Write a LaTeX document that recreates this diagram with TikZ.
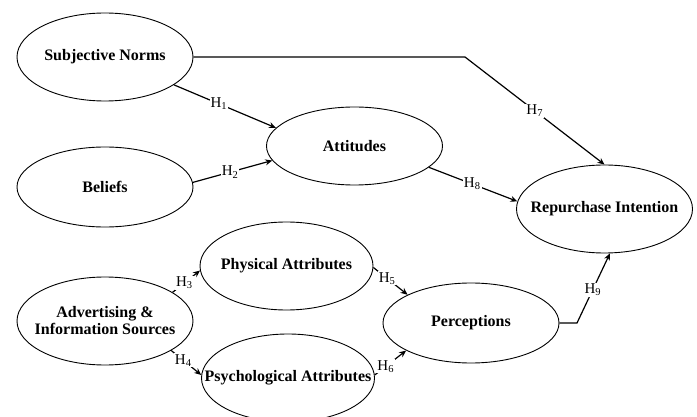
\documentclass[tikz,border=0pt]{standalone}
\usepackage{fontspec}
\setmainfont{Liberation Serif}
\usetikzlibrary{arrows.meta}
\usetikzlibrary{shapes.geometric}

\begin{document}
\begin{tikzpicture}[x=1pt,y=-1pt,
    construct/.style={ellipse,draw,line width=0.9pt,minimum width=176pt,minimum height=88pt,
      inner xsep=-40pt,inner ysep=0pt,align=center,font=\bfseries\fontsize{16}{17}\selectfont},
    hpath/.style={line width=1.2pt,-{Stealth[length=7pt,width=6pt]}},
    hyp/.style={fill=white,inner sep=1pt,font=\fontsize{15}{17}\selectfont}]

    % fix the frame of the picture
    \useasboundingbox (0,0) rectangle (697,417);

    % draw the constructs
    \node[construct] (norms) at (105,57) {Subjective Norms};
    \node[construct,minimum height=80pt] (beliefs) at (105,187) {Beliefs};
    \node[construct,minimum height=78pt] (att) at (354.5,146) {Attitudes};
    \node[construct] (rep) at (604.5,209) {Repurchase Intention};
    \node[construct] (adv) at (105,321) {Advertising \&\\Information Sources};
    \node[construct,minimum width=173pt] (phys) at (286.5,266) {Physical Attributes};
    \node[construct,minimum width=173pt] (psych) at (288,378) {Psychological Attributes};
    \node[construct,minimum height=80pt] (perc) at (471,323) {Perceptions};

    % bend points
    \coordinate (bend7) at (465,57);
    \coordinate (bend9) at (577,323);

    % hypotheses
    \draw[hpath] (norms.-22) -- node[hyp,pos=0.44] {H\textsubscript{1}} (att.167);
    \draw[hpath] (beliefs.3) -- node[hyp,pos=0.47] {H\textsubscript{2}} (att.-170);
    \draw[hpath] (adv.23) -- node[hyp,pos=0.43] {H\textsubscript{3}} (phys.-177);
    \draw[hpath] (adv.-24) -- node[hyp,pos=0.4] {H\textsubscript{4}} (psych.178);
    \draw[hpath] (phys.-1) -- node[hyp,pos=0.4] {H\textsubscript{5}} (perc.156);
    \draw[hpath] (psych.2) -- node[hyp,pos=0.35] {H\textsubscript{6}} (perc.-157);
    \draw[hpath] (norms.east) -- (bend7) -- node[hyp,pos=0.5] {H\textsubscript{7}} (rep.north);
    \draw[hpath] (att.-16) -- node[hyp,pos=0.49] {H\textsubscript{8}} (rep.175);
    \draw[hpath] (perc.east) -- (bend9) -- node[hyp,pos=0.48] {H\textsubscript{9}} (rep.-83);

\end{tikzpicture}
\end{document}
